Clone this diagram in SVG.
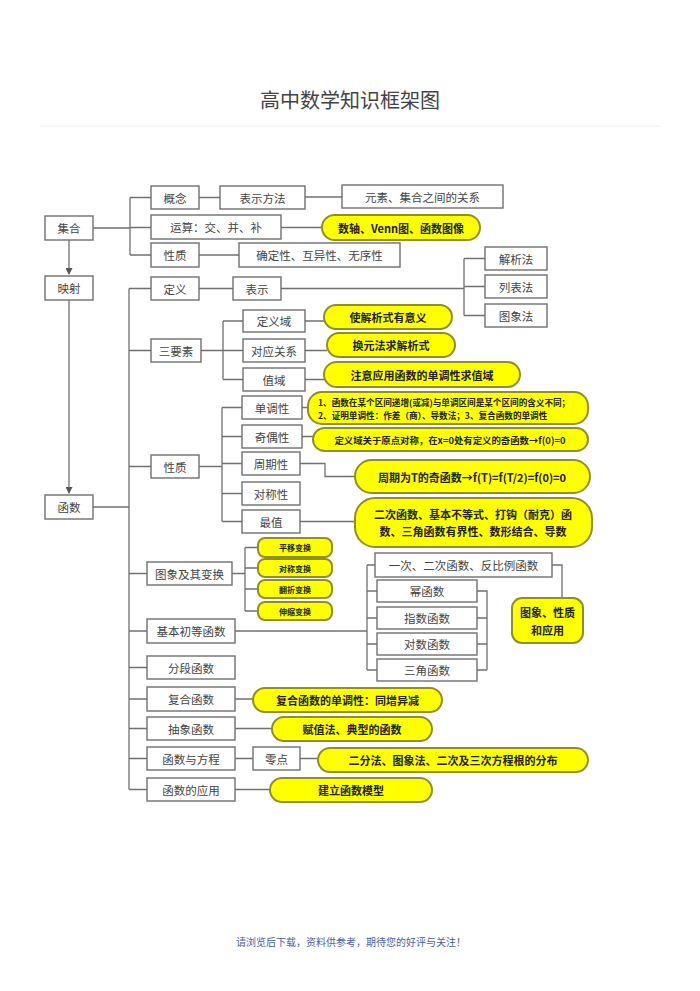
<svg xmlns="http://www.w3.org/2000/svg" width="700" height="991" viewBox="0 0 700 991">
<defs>
<marker id="ah" markerWidth="7" markerHeight="7" refX="6" refY="3.5" orient="auto" markerUnits="userSpaceOnUse"><path d="M0,0 L7,3.5 L0,7 z" fill="#555"/></marker>
<style>
.b{fill:#fff;stroke:#707070;stroke-width:1.4}
.p{fill:#ffff00;stroke:#8f8f2a;stroke-width:2}
.t{font-family:"Noto Sans CJK SC","Noto Sans",sans-serif;font-size:11.5px;fill:#444;text-anchor:middle;dominant-baseline:central}
.pt{font-family:"Noto Sans CJK SC","Noto Sans",sans-serif;font-size:11px;fill:#222;font-weight:bold;text-anchor:middle;dominant-baseline:central}
.s{font-size:8px}
.c{fill:none;stroke:#707070;stroke-width:1.3}
</style>
</defs>
<rect width="700" height="991" fill="#fff"/>
<text x="350" y="99" font-family="Noto Sans CJK SC, sans-serif" font-size="20" fill="#444" text-anchor="middle" dominant-baseline="central">高中数学知识框架图</text>
<line x1="40" y1="126" x2="660" y2="126" stroke="#eee" stroke-width="1"/>

<g id="connectors">
<path class="c" d="M69,240 V274" marker-end="url(#ah)"/>
<path class="c" d="M69,300 V493" marker-end="url(#ah)"/>
<path class="c" d="M93,228 H130 M130,197.5 V255 M130,197.5 H151 M130,227.5 H151 M130,255 H151"/>
<path class="c" d="M199,197.5 H220 M305,197 H342 M281,227.5 H322 M199,255 H239"/>
<path class="c" d="M93,507 H129 M129,288.5 V789.5 M129,288.5 H151 M129,350.5 H151 M129,466.5 H151 M129,573.5 H147 M129,631 H147 M129,667.5 H147 M129,699 H147 M129,728.5 H147 M129,758.5 H147 M129,789.5 H147"/>
<path class="c" d="M199,288.5 H233 M281,288.5 H464 M464,258.5 V315.5 M464,258.5 H485 M464,286.5 H485 M464,315.5 H485"/>
<path class="c" d="M201,350.5 H223 M223,321 V379.5 M223,321 H243 M223,350.5 H243 M223,379.5 H243"/>
<path class="c" d="M305,321 H324 M305,350.5 H327 M305,379.5 H324"/>
<path class="c" d="M199,466.5 H222 M222,407.5 V521.5 M222,407.5 H242 M222,436.5 H242 M222,463.5 H242 M222,493.5 H242 M222,521.5 H242"/>
<path class="c" d="M302,407.5 H308 M302,436.5 H313 M300,463.5 H325 V476.5 H355 M300,521.5 H355"/>
<path class="c" d="M232,573.5 H245 M245,547.5 V611 M245,547.5 H258 M245,568 H258 M245,589 H258 M245,611 H258"/>
<path class="c" d="M235,631 H367 M367,565 V670 M367,565 H375 M367,591 H377 M367,618 H377 M367,644 H377 M367,670 H377"/>
<path class="c" d="M477,591 H487 V670 M477,618 H487 M477,644 H487 M477,670 H487 M552,565 H562 V598"/>
<path class="c" d="M235,699 H253 M235,728.5 H272 M235,758.5 H253 M300,758.5 H318 M235,789.5 H270"/>
</g>

<g id="n-jihe"><rect class="b" x="45" y="216" width="48" height="24"/><text class="t" x="69" y="228">集合</text></g>
<g id="n-yingshe"><rect class="b" x="45" y="276" width="48" height="24"/><text class="t" x="69" y="288">映射</text></g>
<g id="n-hanshu"><rect class="b" x="45" y="495" width="48" height="24"/><text class="t" x="69" y="507">函数</text></g>
<g id="n-gainian"><rect class="b" x="151" y="186" width="48" height="23"/><text class="t" x="175" y="197.5">概念</text></g>
<g id="n-yunsuan"><rect class="b" x="151" y="215" width="130" height="24"/><text class="t" x="216" y="227">运算：交、并、补</text></g>
<g id="n-xingzhi1"><rect class="b" x="151" y="243" width="48" height="24"/><text class="t" x="175" y="255">性质</text></g>
<g id="n-biaoshifangfa"><rect class="b" x="220" y="186" width="85" height="23"/><text class="t" x="262.5" y="197.5">表示方法</text></g>
<g id="n-yuansu"><rect class="b" x="342" y="185" width="161" height="23"/><text class="t" x="422.5" y="196.5">元素、集合之间的关系</text></g>
<g id="p-shuzhou"><rect class="p" x="322" y="215" width="158" height="25" rx="12.5"/><text class="pt" x="401" y="227.5">数轴、Venn图、函数图像</text></g>
<g id="n-queding"><rect class="b" x="239" y="243" width="161" height="24"/><text class="t" x="319.5" y="255">确定性、互异性、无序性</text></g>
<g id="n-dingyi"><rect class="b" x="151" y="277" width="48" height="23"/><text class="t" x="175" y="288.5">定义</text></g>
<g id="n-biaoshi"><rect class="b" x="233" y="277" width="48" height="23"/><text class="t" x="257" y="288.5">表示</text></g>
<g id="n-jiexifa"><rect class="b" x="485" y="247" width="62" height="23"/><text class="t" x="516" y="258.5">解析法</text></g>
<g id="n-liebiaofa"><rect class="b" x="485" y="275" width="62" height="23"/><text class="t" x="516" y="286.5">列表法</text></g>
<g id="n-tuxiangfa"><rect class="b" x="485" y="304" width="62" height="23"/><text class="t" x="516" y="315.5">图象法</text></g>
<g id="n-sanyaosu"><rect class="b" x="151" y="339" width="50" height="23"/><text class="t" x="176" y="350.5">三要素</text></g>
<g id="n-dingyiyu"><rect class="b" x="243" y="310" width="62" height="22"/><text class="t" x="274" y="321">定义域</text></g>
<g id="n-duiying"><rect class="b" x="243" y="339" width="62" height="23"/><text class="t" x="274" y="350.5">对应关系</text></g>
<g id="n-zhiyu"><rect class="b" x="243" y="368" width="62" height="23"/><text class="t" x="274" y="379.5">值域</text></g>
<g id="p-shijiexi"><rect class="p" x="324" y="305" width="128" height="24" rx="12"/><text class="pt" x="388" y="317">使解析式有意义</text></g>
<g id="p-huanyuan"><rect class="p" x="327" y="333" width="128" height="24" rx="12"/><text class="pt" x="391" y="345">换元法求解析式</text></g>
<g id="p-zhuyi"><rect class="p" x="324" y="362" width="196" height="25" rx="12.5"/><text class="pt" x="422" y="374.5">注意应用函数的单调性求值域</text></g>
<g id="n-xingzhi2"><rect class="b" x="151" y="455" width="48" height="23"/><text class="t" x="175" y="466.5">性质</text></g>
<g id="n-dandiao"><rect class="b" x="242" y="396" width="60" height="23"/><text class="t" x="272" y="407.5">单调性</text></g>
<g id="n-jiou"><rect class="b" x="242" y="425" width="60" height="23"/><text class="t" x="272" y="436.5">奇偶性</text></g>
<g id="n-zhouqi"><rect class="b" x="242" y="452" width="58" height="23"/><text class="t" x="271" y="463.5">周期性</text></g>
<g id="n-duichen"><rect class="b" x="242" y="482" width="58" height="23"/><text class="t" x="271" y="493.5">对称性</text></g>
<g id="n-zuizhi"><rect class="b" x="242" y="510" width="58" height="23"/><text class="t" x="271" y="521.5">最值</text></g>
<g id="p-dandiao"><rect class="p" x="308" y="392" width="280" height="32" rx="14"/><text class="pt" style="font-size:8.6px;text-anchor:start" x="318" y="401.5">1、函数在某个区间递增(或减)与单调区间是某个区间的含义不同；</text><text class="pt" style="font-size:8.6px;text-anchor:start" x="318" y="414.5">2、证明单调性：作差（商）、导数法；3、复合函数的单调性</text></g>
<g id="p-jiou"><rect class="p" x="313" y="428" width="275" height="23" rx="11.5"/><text class="pt" style="font-size:9.4px" x="450" y="439.5">定义域关于原点对称，在x=0处有定义的奇函数→f(0)=0</text></g>
<g id="p-zhouqi"><rect class="p" x="355" y="460" width="235" height="33" rx="16.5"/><text class="pt" x="472" y="476.5">周期为T的奇函数→f(T)=f(T/2)=f(0)=0</text></g>
<g id="p-zuizhi"><rect class="p" x="355" y="498" width="237" height="49" rx="20"/><text class="pt" x="473" y="514">二次函数、基本不等式、打钩（耐克）函</text><text class="pt" x="473" y="531">数、三角函数有界性、数形结合、导数</text></g>
<g id="n-tuxiang"><rect class="b" x="147" y="562" width="85" height="23"/><text class="t" x="189.5" y="573.5">图象及其变换</text></g>
<g id="p-pingyi"><rect class="p" x="258" y="538" width="74" height="19" rx="7"/><text class="pt s" x="295" y="547.5">平移变换</text></g>
<g id="p-duichenbh"><rect class="p" x="258" y="559" width="74" height="18" rx="7"/><text class="pt s" x="295" y="568">对称变换</text></g>
<g id="p-fanzhe"><rect class="p" x="258" y="580" width="74" height="18" rx="7"/><text class="pt s" x="295" y="589">翻折变换</text></g>
<g id="p-shensuo"><rect class="p" x="258" y="602" width="74" height="18" rx="7"/><text class="pt s" x="295" y="611">伸缩变换</text></g>
<g id="n-jiben"><rect class="b" x="147" y="619" width="88" height="24"/><text class="t" x="191" y="631">基本初等函数</text></g>
<g id="n-yici"><rect class="b" x="375" y="553" width="177" height="24"/><text class="t" x="463.5" y="565">一次、二次函数、反比例函数</text></g>
<g id="n-mi"><rect class="b" x="377" y="580" width="100" height="22"/><text class="t" x="427" y="591">幂函数</text></g>
<g id="n-zhishu"><rect class="b" x="377" y="607" width="100" height="22"/><text class="t" x="427" y="618">指数函数</text></g>
<g id="n-duishu"><rect class="b" x="377" y="633" width="100" height="22"/><text class="t" x="427" y="644">对数函数</text></g>
<g id="n-sanjiao"><rect class="b" x="377" y="659" width="100" height="22"/><text class="t" x="427" y="670">三角函数</text></g>
<g id="p-tuxiangxz"><rect class="p" x="512" y="598" width="71" height="45" rx="10"/><text class="pt" x="547.5" y="612">图象、性质</text><text class="pt" x="547.5" y="630">和应用</text></g>
<g id="n-fenduan"><rect class="b" x="147" y="656" width="88" height="23"/><text class="t" x="191" y="667.5">分段函数</text></g>
<g id="n-fuhe"><rect class="b" x="147" y="687" width="88" height="24"/><text class="t" x="191" y="699">复合函数</text></g>
<g id="p-fuhe"><rect class="p" x="253" y="688" width="189" height="24" rx="12"/><text class="pt" x="347.5" y="700">复合函数的单调性：同增异减</text></g>
<g id="n-chouxiang"><rect class="b" x="147" y="717" width="88" height="23"/><text class="t" x="191" y="728.5">抽象函数</text></g>
<g id="p-chouxiang"><rect class="p" x="272" y="717" width="160" height="24" rx="12"/><text class="pt" x="352" y="729">赋值法、典型的函数</text></g>
<g id="n-fangcheng"><rect class="b" x="147" y="747" width="88" height="23"/><text class="t" x="191" y="758.5">函数与方程</text></g>
<g id="n-lingdian"><rect class="b" x="253" y="747" width="47" height="23"/><text class="t" x="276.5" y="758.5">零点</text></g>
<g id="p-lingdian"><rect class="p" x="318" y="748" width="270" height="24" rx="12"/><text class="pt" x="453" y="760">二分法、图象法、二次及三次方程根的分布</text></g>
<g id="n-yingyong"><rect class="b" x="147" y="778" width="88" height="23"/><text class="t" x="191" y="789.5">函数的应用</text></g>
<g id="p-yingyong"><rect class="p" x="270" y="778" width="162" height="24" rx="12"/><text class="pt" x="351" y="790">建立函数模型</text></g>

<text x="351" y="942" font-family="Liberation Serif, Noto Sans CJK SC, serif" font-size="10" fill="#4a5fa8" text-anchor="middle" dominant-baseline="central">请浏览后下载，资料供参考，期待您的好评与关注！</text>
</svg>
